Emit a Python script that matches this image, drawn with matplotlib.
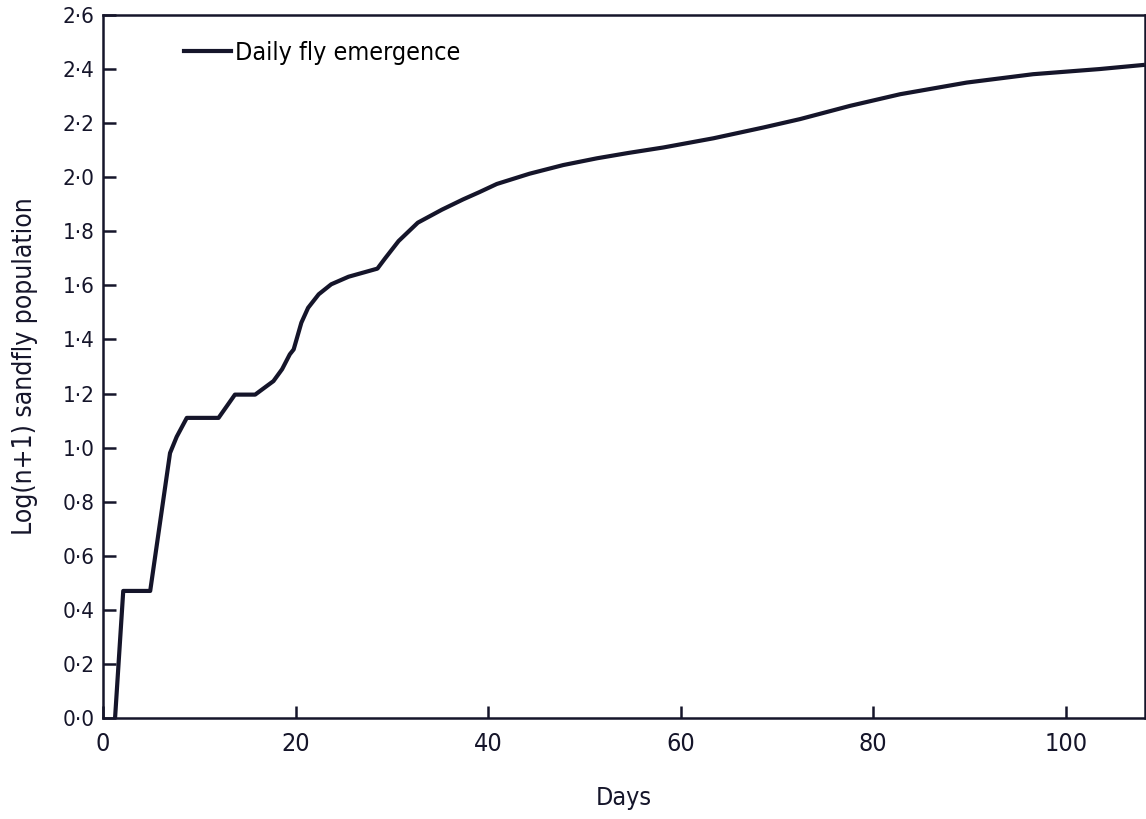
import matplotlib
matplotlib.use("Agg")
import matplotlib.pyplot as plt
from matplotlib.ticker import FuncFormatter

plt.rcParams['font.family'] = ['DejaVu Sans']
plt.rcParams['font.stretch'] = 'condensed'

# cumulative daily emergence, log(n+1)
days = [1.25, 2.1, 4.9, 6.96, 7.65, 8.7, 12.0, 13.7, 15.8, 17.7, 18.6, 19.4,
        19.8, 20.1, 20.6, 21.3, 22.4, 23.7, 25.5, 27.2, 28.5, 29.3, 30.7,
        32.7, 35.2, 37.4, 39.1, 40.9, 44.3, 47.8, 51.3, 54.6, 58.2, 63.4,
        68.6, 72.4, 77.6, 82.8, 89.7, 96.6, 103.5, 108.0]
log_pop = [0.0, 0.47, 0.47, 0.98, 1.04, 1.11, 1.11, 1.196, 1.196, 1.246,
           1.29, 1.345, 1.363, 1.40, 1.462, 1.517, 1.567, 1.604, 1.632,
           1.649, 1.662, 1.70, 1.764, 1.832, 1.88, 1.918, 1.945, 1.975,
           2.013, 2.045, 2.07, 2.09, 2.11, 2.144, 2.184, 2.215, 2.264, 2.307,
           2.35, 2.381, 2.40, 2.415]

x_ticks = [0, 20, 40, 60, 80, 100]
y_ticks = [0.0, 0.2, 0.4, 0.6, 0.8, 1.0, 1.2, 1.4, 1.6, 1.8, 2.0, 2.2, 2.4, 2.6]

ink = '#15152a'

fig = plt.figure(figsize=(11.46, 8.19), dpi=100)
ax = fig.add_axes([0.0899, 0.1233, 0.909, 0.8584])

ax.plot(days, log_pop, color=ink, lw=3.0, solid_joinstyle='round',
        label='Daily fly emergence')

ax.set_xlim(0, 108.2)
ax.set_ylim(0, 2.6)
ax.set_xticks(x_ticks)
ax.set_yticks(y_ticks)
ax.yaxis.set_major_formatter(FuncFormatter(lambda v, p: f"{v:.1f}".replace('.', '\u00b7')))
ax.tick_params(direction='in', length=9, width=1.8, color=ink, labelcolor=ink)
ax.tick_params(axis='x', pad=10, labelsize=18)
ax.tick_params(axis='y', pad=6, labelsize=16)

for s in ax.spines.values():
    s.set_linewidth(1.8)
    s.set_color(ink)

ax.set_xlabel('Days', fontsize=18, labelpad=22, color=ink)
ax.set_ylabel('Log(n+1) sandfly population', fontsize=19, labelpad=18,
              color=ink)

ax.legend(loc='upper left', bbox_to_anchor=(0.056, 0.995), frameon=False,
          fontsize=18, handlelength=1.9, handletextpad=0.15)

fig.savefig('out.png', dpi=100)
